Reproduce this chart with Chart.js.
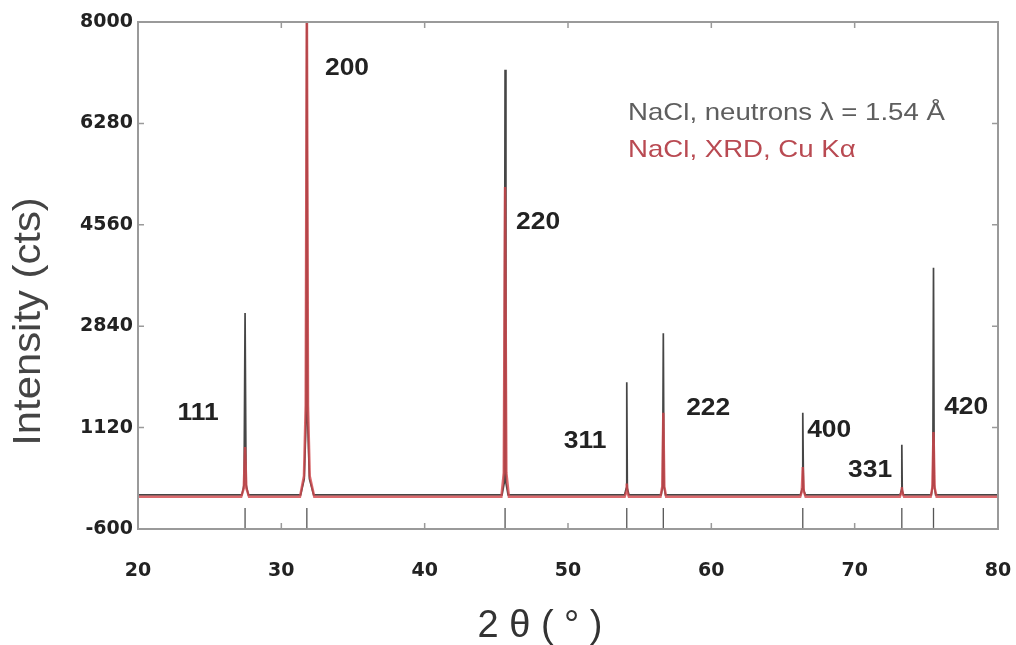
<!DOCTYPE html>
<html>
<head>
<meta charset="utf-8">
<script src="https://cdn.jsdelivr.net/npm/chart.js@4.4.0/dist/chart.umd.min.js"></script>
<style>
body { margin: 0; background: #fff; }
#wrap { width: 1016px; height: 645px; }
</style>
</head>
<body>
<div id="wrap"><canvas id="graph"></canvas></div>
<script>
// neutron pattern (black)
const neutronX = [20, 27.25, 27.40, 27.47, 27.54, 27.70, 31.35, 31.60, 31.72, 31.78, 31.84, 31.96, 32.25,
    45.40, 45.55, 45.61, 45.67, 45.82, 53.95, 54.06, 54.10, 54.14, 54.25, 56.50, 56.60, 56.65, 56.70, 56.80,
    66.22, 66.33, 66.38, 66.43, 66.55, 73.18, 73.26, 73.29, 73.32, 73.40, 75.35, 75.45, 75.50, 75.55, 75.65, 80];
const neutronY = [-20, -20, 150, 3065, 150, -20, -20, 250, 1200, 8600, 1200, 250, -20,
    -20, 180, 7190, 180, -20, -20, 90, 1890, 90, -20, -20, 120, 2720, 120, -20,
    -20, 80, 1370, 80, -20, -20, 60, 830, 60, -20, -20, 150, 3830, 150, -20, -20];

// XRD pattern (red)
const xrdX = [20, 27.20, 27.38, 27.47, 27.56, 27.75, 31.30, 31.58, 31.70, 31.78, 31.86, 31.98, 32.30,
    45.35, 45.52, 45.61, 45.70, 45.88, 53.95, 54.05, 54.10, 54.15, 54.25, 56.45, 56.58, 56.65, 56.72, 56.85,
    66.20, 66.31, 66.38, 66.45, 66.58, 73.15, 73.24, 73.29, 73.34, 73.45, 75.30, 75.42, 75.50, 75.58, 75.72, 80];
const xrdY = [-55, -55, 90, 790, 90, -55, -55, 300, 1500, 8600, 1500, 300, -55,
    -55, 350, 5200, 350, -55, -55, 20, 170, 20, -55, -55, 120, 1370, 120, -55,
    -55, 40, 450, 40, -55, -55, 10, 110, 10, -55, -55, 100, 1045, 100, -55, -55];

// Bragg position markers under the baseline
const braggPos = [27.47, 31.78, 45.61, 54.10, 56.65, 66.38, 73.29, 75.50];
const braggLevel = -412;

// hkl labels
const hklText = ['111', '200', '220', '311', '222', '400', '331', '420'];
const hklX = [24.19, 34.58, 47.91, 51.19, 59.78, 68.22, 71.08, 77.78];
const hklY = [1369, 7220, 4608, 894, 1454, 1080, 402, 1470];

const legendText = ['NaCl, neutrons \u03bb = 1.54 \u00c5', 'NaCl, XRD, Cu K\u03b1'];
const legendX = 54.19;
const legendY = [6457, 5829];

const xTicks = [20, 30, 40, 50, 60, 70, 80];
const yTicks = [-600, 1120, 2840, 4560, 6280, 8000];

function pts(xs, ys) {
    return xs.map((x, i) => ({ x: x, y: ys[i] }));
}

function stretchText(ctx, txt, x, y, sx, rot) {
    ctx.save();
    ctx.translate(x, y);
    if (rot) ctx.rotate(rot);
    ctx.scale(sx, 1);
    ctx.fillText(txt, 0, 0);
    ctx.restore();
}

const extras = {
    id: 'extras',
    afterDraw(chart) {
        const ctx = chart.ctx;
        const xs = chart.scales.x, ys = chart.scales.y;
        const a = chart.chartArea;
        ctx.save();
        // frame
        ctx.strokeStyle = '#9a9a9a';
        ctx.lineWidth = 2;
        ctx.strokeRect(a.left, a.top, a.right - a.left, a.bottom - a.top);
        // inner ticks
        ctx.lineWidth = 1.5;
        ctx.beginPath();
        xTicks.slice(1, -1).forEach(v => {
            const p = xs.getPixelForValue(v);
            ctx.moveTo(p, a.bottom); ctx.lineTo(p, a.bottom - 6);
            ctx.moveTo(p, a.top); ctx.lineTo(p, a.top + 6);
        });
        yTicks.slice(1, -1).forEach(v => {
            const p = ys.getPixelForValue(v);
            ctx.moveTo(a.left, p); ctx.lineTo(a.left + 6, p);
            ctx.moveTo(a.right, p); ctx.lineTo(a.right - 6, p);
        });
        ctx.stroke();

        // hkl labels
        ctx.fillStyle = '#222';
        ctx.font = 'bold 24px "Liberation Sans", Arial, sans-serif';
        ctx.textAlign = 'center';
        ctx.textBaseline = 'middle';
        hklText.forEach((t, i) => {
            stretchText(ctx, t, xs.getPixelForValue(hklX[i]), ys.getPixelForValue(hklY[i]), 1.1, 0);
        });

        // legend
        ctx.textAlign = 'left';
        ctx.font = '24px "Liberation Sans", Arial, sans-serif';
        ctx.fillStyle = '#5e5e5e';
        stretchText(ctx, legendText[0], xs.getPixelForValue(legendX), ys.getPixelForValue(legendY[0]), 1.15, 0);
        ctx.fillStyle = '#b94a52';
        stretchText(ctx, legendText[1], xs.getPixelForValue(legendX), ys.getPixelForValue(legendY[1]), 1.15, 0);

        // axis titles
        ctx.textAlign = 'center';
        ctx.fillStyle = '#444';
        ctx.font = '38px "Liberation Sans", Arial, sans-serif';
        stretchText(ctx, 'Intensity (cts)', 30, (a.top + a.bottom) / 2 + 46, 1.1, -Math.PI / 2);
        ctx.fillStyle = '#333';
        stretchText(ctx, '2 \u03b8 ( \u00b0 )', (a.left + a.right) / 2 - 28, 627, 1.0, 0);
        ctx.restore();
    }
};

const ctx = document.getElementById('graph').getContext('2d');
const chart = new Chart(ctx, {
    type: 'line',
    data: {
        datasets: [{
                label: 'NaCl, XRD, Cu Ka',
                data: pts(xrdX, xrdY),
                borderColor: 'rgba(210, 70, 75, 0.8)',
                borderWidth: 2.5,
                pointRadius: 0,
                tension: 0,
            }, {
                label: 'NaCl, neutrons',
                data: pts(neutronX, neutronY),
                borderColor: 'rgba(60, 60, 60, 0.95)',
                borderWidth: 1.7,
                pointRadius: 0,
                tension: 0,
            }, {
                label: 'Bragg',
                type: 'scatter',
                data: braggPos.map(x => ({ x: x, y: braggLevel })),
                pointStyle: 'line',
                rotation: 90,
                pointRadius: 10,
                borderColor: '#555',
                borderWidth: 1.3,
                backgroundColor: '#555',
        }],
    },
    options: {
        responsive: true,
        maintainAspectRatio: false,
        animation: false,
        layout: { padding: { top: 22, right: 18, left: 0, bottom: 0 } },
        plugins: { legend: { display: false }, tooltip: { enabled: false } },
        scales: {
            x: {
                type: 'linear',
                min: 20,
                max: 80,
                grid: { display: false, drawTicks: false },
                border: { display: false },
                afterFit: s => { s.height = 116; s.paddingLeft = 0; s.paddingRight = 0; },
                ticks: {
                    stepSize: 10,
                    padding: 31,
                    color: '#222',
                    font: { family: 'DejaVu Sans', weight: 'bold', size: 19 },
                },
            },
            y: {
                min: -600,
                max: 8000,
                grid: { display: false, drawTicks: false },
                border: { display: false },
                afterFit: s => { s.width = 138; s.paddingTop = 0; s.paddingBottom = 0; },
                afterBuildTicks: s => { s.ticks = yTicks.map(v => ({ value: v })); },
                ticks: {
                    padding: 5,
                    color: '#222',
                    font: { family: 'DejaVu Sans', weight: 'bold', size: 19 },
                    callback: v => String(v),
                },
            },
        },
    },
    plugins: [extras],
});
</script>
</body>
</html>
